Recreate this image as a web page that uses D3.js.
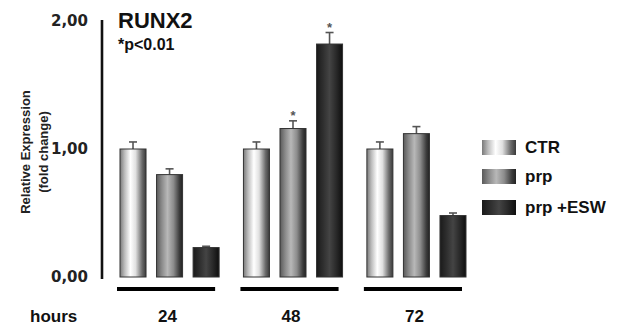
<!DOCTYPE html>
<html><head><meta charset="utf-8">
<script src="https://cdn.jsdelivr.net/npm/d3@7"></script>
<style>body{margin:0;background:#fff}svg{display:block;font-family:"Liberation Sans",Arial,sans-serif}</style>
</head><body><svg id="c" width="623" height="328"></svg>
<script>
const groups = ["24", "48", "72"];
const series = ["CTR", "prp", "prp +ESW"];
const ctr = [1.00, 1.00, 1.00];
const prp = [0.80, 1.16, 1.12];
const esw = [0.23, 1.82, 0.48];
const ctrErr = [0.055, 0.055, 0.055];
const prpErr = [0.045, 0.06, 0.055];
const eswErr = [0.01, 0.09, 0.02];
const yTicks = [0, 1, 2];
const stars = [[1, 1], [1, 2]]; // [group index, series index]

const values = [ctr, prp, esw];
const errs = [ctrErr, prpErr, eswErr];

const svg = d3.select("#c");
const y = d3.scaleLinear().domain([0, 2]).range([277, 21]);
const x0 = d3.scaleBand().domain(groups).range([120, 466]).paddingInner(0.197).paddingOuter(0);
const x1 = d3.scaleBand().domain(series).range([0, x0.bandwidth()]).paddingInner(0.288).paddingOuter(0);

const defs = svg.append("defs");
const gradStops = [
  [["0%", "#7a7a7a"], ["18%", "#bdbdbd"], ["40%", "#ffffff"], ["60%", "#e0e0e0"], ["85%", "#6a6a6a"], ["100%", "#3a3a3a"]],
  [["0%", "#5a5a5a"], ["20%", "#8a8a8a"], ["42%", "#b8b8b8"], ["65%", "#8c8c8c"], ["88%", "#3c3c3c"], ["100%", "#222"]],
  [["0%", "#1a1a1a"], ["25%", "#2e2e2e"], ["50%", "#444"], ["75%", "#2a2a2a"], ["100%", "#0e0e0e"]]
];
gradStops.forEach((st, i) => {
  const g = defs.append("linearGradient").attr("id", "g" + i).attr("x1", "0").attr("x2", "1").attr("y1", "0").attr("y2", "0");
  st.forEach(s => g.append("stop").attr("offset", s[0]).attr("stop-color", s[1]));
});

// y axis
const yAxis = d3.axisLeft(y).tickValues(yTicks).tickSize(0).tickPadding(14)
  .tickFormat(d => d3.format(".2f")(d).replace(".", ","));
const ya = svg.append("g").attr("transform", "translate(102,0)").call(yAxis);
ya.select(".domain").remove();
ya.append("line").attr("x1", 0).attr("x2", 0).attr("y1", y(2) - 1).attr("y2", y(0) + 2)
  .attr("stroke", "#111").attr("stroke-width", 2.6);
ya.selectAll("text").attr("font-size", 15).attr("font-weight", "bold").attr("fill", "#222")
  .attr("font-family", "DejaVu Sans, Verdana, sans-serif");

// y title
const yt = svg.append("text").attr("transform", "translate(30,152) rotate(-90)")
  .attr("text-anchor", "middle").attr("font-size", 13).attr("font-weight", "bold").attr("fill", "#222");
yt.append("tspan").attr("x", 0).attr("dy", 0).text("Relative Expression");
yt.append("tspan").attr("x", 0).attr("dy", 18).text("(fold change)");

// title
svg.append("text").attr("x", 118).attr("y", 28).attr("font-size", 22).attr("font-weight", "bold").attr("fill", "#111").text("RUNX2");
svg.append("text").attr("x", 118).attr("y", 50).attr("font-size", 16).attr("font-weight", "bold").attr("fill", "#111").text("*p<0.01");

// bars
const data = [];
groups.forEach((g, gi) => series.forEach((s, si) => data.push({g, gi, s, si, v: values[si][gi], e: errs[si][gi]})));

const bars = svg.append("g").selectAll("g").data(data).join("g")
  .attr("transform", d => `translate(${x0(d.g) + x1(d.s)},0)`);
const bw = x1.bandwidth();
// error bars
bars.append("line").attr("x1", bw / 2).attr("x2", bw / 2)
  .attr("y1", d => y(d.v)).attr("y2", d => y(d.v + d.e)).attr("stroke", "#555").attr("stroke-width", 1.6);
bars.append("line").attr("x1", bw / 2 - 4).attr("x2", bw / 2 + 4)
  .attr("y1", d => y(d.v + d.e)).attr("y2", d => y(d.v + d.e)).attr("stroke", "#555").attr("stroke-width", 1.6);
bars.append("rect").attr("x", 0).attr("width", bw)
  .attr("y", d => y(d.v)).attr("height", d => y(0) - y(d.v))
  .attr("fill", d => `url(#g${d.si})`).attr("stroke", "#333").attr("stroke-width", 1);

// stars
svg.append("g").selectAll("text").data(stars).join("text")
  .attr("x", d => x0(groups[d[0]]) + x1(series[d[1]]) + bw / 2)
  .attr("y", d => y(values[d[1]][d[0]] + errs[d[1]][d[0]]) - 1)
  .attr("text-anchor", "middle").attr("font-size", 13).attr("font-weight", "bold").attr("fill", "#555").text("*");

// group underlines and labels
svg.append("g").selectAll("rect").data(groups).join("rect")
  .attr("x", d => x0(d) - 3).attr("width", x0.bandwidth() - 1)
  .attr("y", 287).attr("height", 4).attr("fill", "#000");
svg.append("g").selectAll("text").data(groups).join("text")
  .attr("x", d => x0(d) + x0.bandwidth() / 2 - 2).attr("y", 322)
  .attr("text-anchor", "middle").attr("font-size", 17).attr("font-weight", "bold").attr("fill", "#111").text(d => d);
svg.append("text").attr("x", 30).attr("y", 322).attr("font-size", 17).attr("font-weight", "bold").attr("fill", "#111").text("hours");

// legend
const lg = svg.append("g").selectAll("g").data(series).join("g")
  .attr("transform", (d, i) => `translate(482,${[140, 169, 200][i]})`);
lg.append("rect").attr("width", 34).attr("height", 15).attr("fill", (d, i) => `url(#g${i})`);
lg.append("text").attr("x", 43).attr("y", 13).attr("font-size", 17).attr("font-weight", "bold").attr("fill", "#111").text(d => d);
</script></body></html>
